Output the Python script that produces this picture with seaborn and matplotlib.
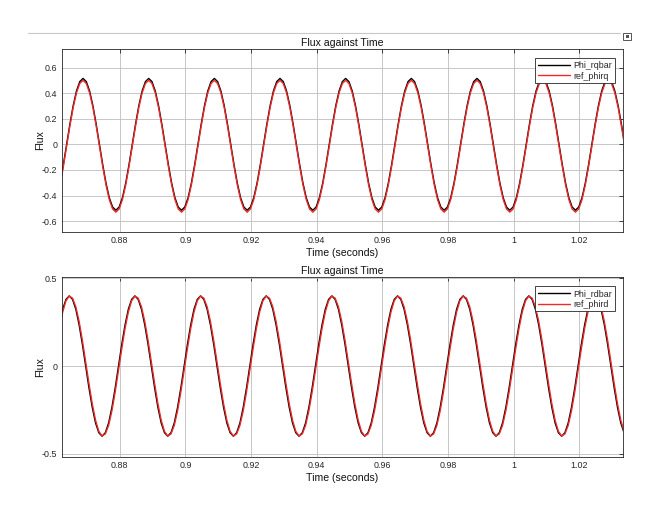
import matplotlib
matplotlib.use("Agg")
import matplotlib.pyplot as plt
from matplotlib.lines import Line2D
from matplotlib.patches import Rectangle
import seaborn as sns
import pandas as pd
import numpy as np

sns.set_style("white")
plt.rcParams['font.family'] = ['Liberation Sans', 'DejaVu Sans']

# sampling of the logged signals (s)
t_start_q = 0.8618
t_start_d = 0.8616
t_step = 0.001

# q-axis rotor flux
phi_rqbar = [
    -0.303, -0.159, 0.000, 0.159, 0.303, 0.417, 0.490,
    0.515, 0.490, 0.417, 0.303, 0.159, 0.000, -0.159, -0.303, -0.417, -0.490, -0.515, -0.490, -0.417, -0.303, -0.159, 0.000, 0.159, 0.303, 0.417, 0.490,
    0.515, 0.490, 0.417, 0.303, 0.159, 0.000, -0.159, -0.303, -0.417, -0.490, -0.515, -0.490, -0.417, -0.303, -0.159, 0.000, 0.159, 0.303, 0.417, 0.490,
    0.515, 0.490, 0.417, 0.303, 0.159, 0.000, -0.159, -0.303, -0.417, -0.490, -0.515, -0.490, -0.417, -0.303, -0.159, 0.000, 0.159, 0.303, 0.417, 0.490,
    0.515, 0.490, 0.417, 0.303, 0.159, 0.000, -0.159, -0.303, -0.417, -0.490, -0.515, -0.490, -0.417, -0.303, -0.159, 0.000, 0.159, 0.303, 0.417, 0.490,
    0.515, 0.490, 0.417, 0.303, 0.159, 0.000, -0.159, -0.303, -0.417, -0.490, -0.515, -0.490, -0.417, -0.303, -0.159, 0.000, 0.159, 0.303, 0.417, 0.490,
    0.515, 0.490, 0.417, 0.303, 0.159, 0.000, -0.159, -0.303, -0.417, -0.490, -0.515, -0.490, -0.417, -0.303, -0.159, 0.000, 0.159, 0.303, 0.417, 0.490,
    0.515, 0.490, 0.417, 0.303, 0.159, 0.000, -0.159, -0.303, -0.417, -0.490, -0.515, -0.490, -0.417, -0.303, -0.159, 0.000, 0.159, 0.303, 0.417, 0.490,
    0.515, 0.490, 0.417, 0.303, 0.159, 0.000, -0.159, -0.303, -0.417, -0.490, -0.515, -0.490, -0.417, -0.303, -0.159, 0.000, 0.159, 0.303, 0.417, 0.490,
    0.515, 0.490, 0.417, 0.303, 0.159, 0.000,
]
ref_phirq = [
    -0.318, -0.174, -0.015, 0.144, 0.288, 0.402, 0.475,
    0.500, 0.475, 0.402, 0.288, 0.144, -0.015, -0.174, -0.318, -0.432, -0.505, -0.530, -0.505, -0.432, -0.318, -0.174, -0.015, 0.144, 0.288, 0.402, 0.475,
    0.500, 0.475, 0.402, 0.288, 0.144, -0.015, -0.174, -0.318, -0.432, -0.505, -0.530, -0.505, -0.432, -0.318, -0.174, -0.015, 0.144, 0.288, 0.402, 0.475,
    0.500, 0.475, 0.402, 0.288, 0.144, -0.015, -0.174, -0.318, -0.432, -0.505, -0.530, -0.505, -0.432, -0.318, -0.174, -0.015, 0.144, 0.288, 0.402, 0.475,
    0.500, 0.475, 0.402, 0.288, 0.144, -0.015, -0.174, -0.318, -0.432, -0.505, -0.530, -0.505, -0.432, -0.318, -0.174, -0.015, 0.144, 0.288, 0.402, 0.475,
    0.500, 0.475, 0.402, 0.288, 0.144, -0.015, -0.174, -0.318, -0.432, -0.505, -0.530, -0.505, -0.432, -0.318, -0.174, -0.015, 0.144, 0.288, 0.402, 0.475,
    0.500, 0.475, 0.402, 0.288, 0.144, -0.015, -0.174, -0.318, -0.432, -0.505, -0.530, -0.505, -0.432, -0.318, -0.174, -0.015, 0.144, 0.288, 0.402, 0.475,
    0.500, 0.475, 0.402, 0.288, 0.144, -0.015, -0.174, -0.318, -0.432, -0.505, -0.530, -0.505, -0.432, -0.318, -0.174, -0.015, 0.144, 0.288, 0.402, 0.475,
    0.500, 0.475, 0.402, 0.288, 0.144, -0.015, -0.174, -0.318, -0.432, -0.505, -0.530, -0.505, -0.432, -0.318, -0.174, -0.015, 0.144, 0.288, 0.402, 0.475,
    0.500, 0.475, 0.402, 0.288, 0.144, -0.015,
]

# d-axis rotor flux
phi_rdbar = [
    0.235, 0.324, 0.380,
    0.400, 0.380, 0.324, 0.235, 0.124, 0.000, -0.124, -0.235, -0.324, -0.380, -0.400, -0.380, -0.324, -0.235, -0.124, 0.000, 0.124, 0.235, 0.324, 0.380,
    0.400, 0.380, 0.324, 0.235, 0.124, 0.000, -0.124, -0.235, -0.324, -0.380, -0.400, -0.380, -0.324, -0.235, -0.124, 0.000, 0.124, 0.235, 0.324, 0.380,
    0.400, 0.380, 0.324, 0.235, 0.124, 0.000, -0.124, -0.235, -0.324, -0.380, -0.400, -0.380, -0.324, -0.235, -0.124, 0.000, 0.124, 0.235, 0.324, 0.380,
    0.400, 0.380, 0.324, 0.235, 0.124, 0.000, -0.124, -0.235, -0.324, -0.380, -0.400, -0.380, -0.324, -0.235, -0.124, 0.000, 0.124, 0.235, 0.324, 0.380,
    0.400, 0.380, 0.324, 0.235, 0.124, 0.000, -0.124, -0.235, -0.324, -0.380, -0.400, -0.380, -0.324, -0.235, -0.124, 0.000, 0.124, 0.235, 0.324, 0.380,
    0.400, 0.380, 0.324, 0.235, 0.124, 0.000, -0.124, -0.235, -0.324, -0.380, -0.400, -0.380, -0.324, -0.235, -0.124, 0.000, 0.124, 0.235, 0.324, 0.380,
    0.400, 0.380, 0.324, 0.235, 0.124, 0.000, -0.124, -0.235, -0.324, -0.380, -0.400, -0.380, -0.324, -0.235, -0.124, 0.000, 0.124, 0.235, 0.324, 0.380,
    0.400, 0.380, 0.324, 0.235, 0.124, 0.000, -0.124, -0.235, -0.324, -0.380, -0.400, -0.380, -0.324, -0.235, -0.124, 0.000, 0.124, 0.235, 0.324, 0.380,
    0.400, 0.380, 0.324, 0.235, 0.124, 0.000, -0.124, -0.235, -0.324, -0.380,
]
ref_phird = [
    0.214, 0.308, 0.372,
    0.399, 0.387, 0.338, 0.255, 0.147, 0.025, -0.099, -0.214, -0.308, -0.372, -0.399, -0.387, -0.338, -0.255, -0.147, -0.025, 0.099, 0.214, 0.308, 0.372,
    0.399, 0.387, 0.338, 0.255, 0.147, 0.025, -0.099, -0.214, -0.308, -0.372, -0.399, -0.387, -0.338, -0.255, -0.147, -0.025, 0.099, 0.214, 0.308, 0.372,
    0.399, 0.387, 0.338, 0.255, 0.147, 0.025, -0.099, -0.214, -0.308, -0.372, -0.399, -0.387, -0.338, -0.255, -0.147, -0.025, 0.099, 0.214, 0.308, 0.372,
    0.399, 0.387, 0.338, 0.255, 0.147, 0.025, -0.099, -0.214, -0.308, -0.372, -0.399, -0.387, -0.338, -0.255, -0.147, -0.025, 0.099, 0.214, 0.308, 0.372,
    0.399, 0.387, 0.338, 0.255, 0.147, 0.025, -0.099, -0.214, -0.308, -0.372, -0.399, -0.387, -0.338, -0.255, -0.147, -0.025, 0.099, 0.214, 0.308, 0.372,
    0.399, 0.387, 0.338, 0.255, 0.147, 0.025, -0.099, -0.214, -0.308, -0.372, -0.399, -0.387, -0.338, -0.255, -0.147, -0.025, 0.099, 0.214, 0.308, 0.372,
    0.399, 0.387, 0.338, 0.255, 0.147, 0.025, -0.099, -0.214, -0.308, -0.372, -0.399, -0.387, -0.338, -0.255, -0.147, -0.025, 0.099, 0.214, 0.308, 0.372,
    0.399, 0.387, 0.338, 0.255, 0.147, 0.025, -0.099, -0.214, -0.308, -0.372, -0.399, -0.387, -0.338, -0.255, -0.147, -0.025, 0.099, 0.214, 0.308, 0.372,
    0.399, 0.387, 0.338, 0.255, 0.147, 0.025, -0.099, -0.214, -0.308, -0.372,
]

x_ticks = [0.88, 0.90, 0.92, 0.94, 0.96, 0.98, 1.00, 1.02]
x_ticklabels = ['0.88', '0.9', '0.92', '0.94', '0.96', '0.98', '1', '1.02']
y_ticks_q = [-0.6, -0.4, -0.2, 0, 0.2, 0.4, 0.6]
y_ticklabels_q = ['-0.6', '-0.4', '-0.2', '0', '0.2', '0.4', '0.6']
y_ticks_d = [-0.5, 0, 0.5]
y_ticklabels_d = ['-0.5', '0', '0.5']


def make_df(t0, black, red, black_name, red_name):
    t = np.round(t0 + t_step * np.arange(len(black)), 4)
    return pd.DataFrame({
        'Time': np.concatenate([t, t]),
        'Flux': np.array(black + red),
        'Signal': [black_name] * len(black) + [red_name] * len(red),
    })


df_q = make_df(t_start_q, phi_rqbar, ref_phirq, 'Phi_rqbar', 'ref_phirq')
df_d = make_df(t_start_d, phi_rdbar, ref_phird, 'Phi_rdbar', 'ref_phird')

axc = '#262626'
red = '#f02828'
fig = plt.figure(figsize=(6.55, 5.05), dpi=100)
ax1 = fig.add_axes([0.0942, 0.5406, 0.8565, 0.3624])
ax2 = fig.add_axes([0.0942, 0.0956, 0.8565, 0.3553])


def style_panel(ax, df, names, yticks, yticklabels, ylim):
    sns.lineplot(data=df, x='Time', y='Flux', hue='Signal', hue_order=names,
                 palette={names[0]: 'black', names[1]: red},
                 estimator=None, sort=False, lw=1.0, legend=False, ax=ax)
    ax.set_xlim(0.8623, 1.0332)
    ax.set_ylim(*ylim)
    ax.set_xticks(x_ticks)
    ax.set_xticklabels(x_ticklabels)
    ax.set_yticks(yticks)
    ax.set_yticklabels(yticklabels)
    ax.grid(True, color='#bebebe', lw=0.6)
    ax.set_axisbelow(True)
    for s in ax.spines.values():
        s.set_color(axc)
        s.set_linewidth(0.6)
    ax.tick_params(direction='in', length=3, width=0.6, color=axc,
                   labelsize=6.4, labelcolor=axc, top=True, right=True, pad=3)
    ax.set_title('Flux against Time', fontsize=7.6, color='#111111', pad=2.5)
    ax.set_xlabel('Time (seconds)', fontsize=7.6, color='#111111', labelpad=2)
    ax.set_ylabel('Flux', fontsize=7.6, color='#111111')
    ax.yaxis.set_label_coords(-0.03, 0.5)
    handles = [Line2D([], [], color='black', lw=1.0),
               Line2D([], [], color=red, lw=1.0)]
    leg = ax.legend(handles, names, loc='upper right', bbox_to_anchor=(0.986, 0.95),
                    fontsize=6.4, handlelength=3.6, handletextpad=0.4,
                    borderpad=0.3, labelspacing=0.2, borderaxespad=0,
                    fancybox=False, framealpha=1)
    leg.get_frame().set_edgecolor(axc)
    leg.get_frame().set_linewidth(0.6)


style_panel(ax1, df_q, ['Phi_rqbar', 'ref_phirq'], y_ticks_q, y_ticklabels_q, (-0.685, 0.745))
style_panel(ax2, df_d, ['Phi_rdbar', 'ref_phird'], y_ticks_d, y_ticklabels_d, (-0.517, 0.506))

# thin separator line and the small export icon at the top of the window
fig.add_artist(Line2D([28 / 655, 620 / 655], [1 - 33 / 505] * 2, color='#c8c8c8', lw=0.8))
fig.add_artist(Rectangle((623 / 655, 1 - 40 / 505), 8 / 655, 7 / 505, fill=False,
                         edgecolor='#555555', lw=0.7))
fig.add_artist(Rectangle((625.5 / 655, 1 - 38 / 505), 3 / 655, 3 / 505, color='#555555', lw=0))

fig.savefig('out.png', dpi=100)
plt.close(fig)
